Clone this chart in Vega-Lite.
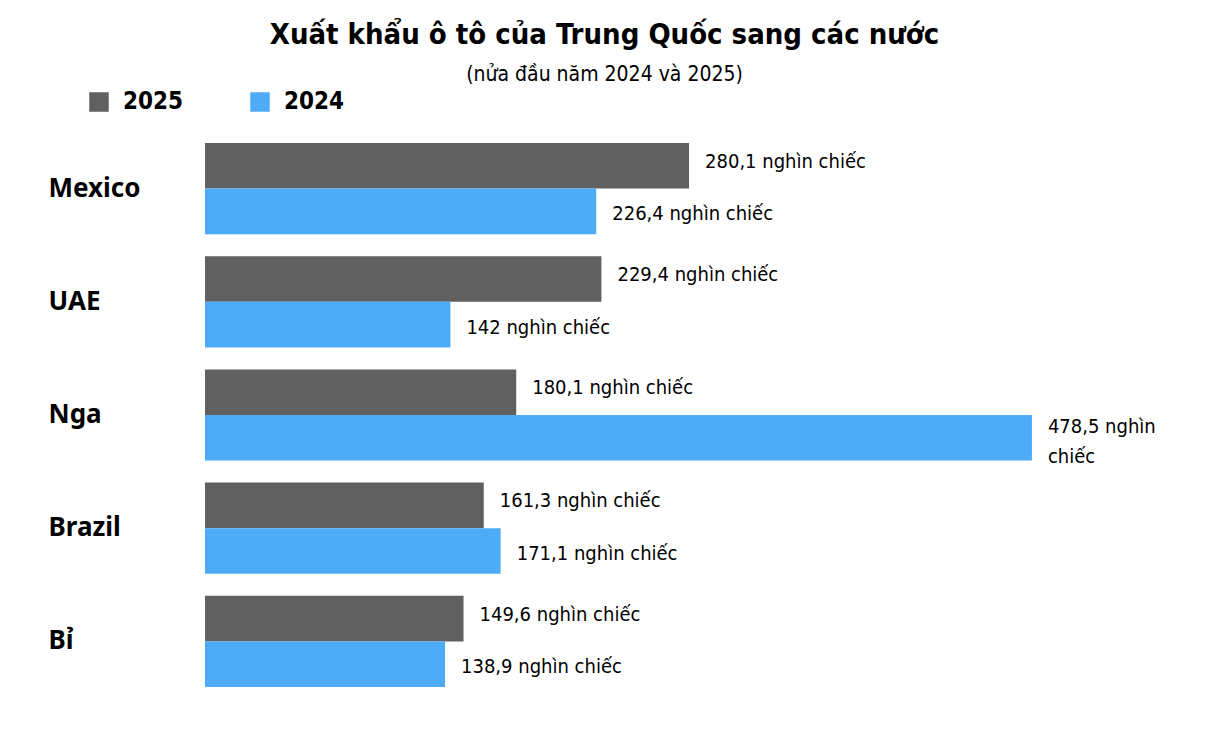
{
  "$schema": "https://vega.github.io/schema/vega-lite/v6.json",
  "width": 1003,
  "height": 566,
  "autosize": {"type": "none"},
  "padding": {"left": 205, "top": 132, "right": 0, "bottom": 36},
  "background": "white",
  "title": {
    "text": "Xuất khẩu ô tô của Trung Quốc sang các nước",
    "subtitle": "(nửa đầu năm 2024 và 2025)",
    "anchor": "middle",
    "dx": -102,
    "offset": 5,
    "font": "DejaVu Sans Condensed",
    "fontSize": 29,
    "fontWeight": "bold",
    "color": "#000000",
    "subtitleFont": "DejaVu Sans Condensed",
    "subtitleFontSize": 21,
    "subtitleColor": "#000000",
    "subtitlePadding": 14
  },
  "data": {
    "values": [
      {"country": "Mexico", "year": "2025", "value": 280.1, "label": "280,1 nghìn chiếc"},
      {"country": "Mexico", "year": "2024", "value": 226.4, "label": "226,4 nghìn chiếc"},
      {"country": "UAE", "year": "2025", "value": 229.4, "label": "229,4 nghìn chiếc"},
      {"country": "UAE", "year": "2024", "value": 142, "label": "142 nghìn chiếc"},
      {"country": "Nga", "year": "2025", "value": 180.1, "label": "180,1 nghìn chiếc"},
      {"country": "Nga", "year": "2024", "value": 478.5, "label": "478,5 nghìn\nchiếc"},
      {"country": "Brazil", "year": "2025", "value": 161.3, "label": "161,3 nghìn chiếc"},
      {"country": "Brazil", "year": "2024", "value": 171.1, "label": "171,1 nghìn chiếc"},
      {"country": "Bỉ", "year": "2025", "value": 149.6, "label": "149,6 nghìn chiếc"},
      {"country": "Bỉ", "year": "2024", "value": 138.9, "label": "138,9 nghìn chiếc"}
    ]
  },
  "encoding": {
    "y": {
      "field": "country",
      "type": "nominal",
      "sort": ["Mexico", "UAE", "Nga", "Brazil", "Bỉ"],
      "scale": {"paddingInner": 0.194, "paddingOuter": 0.097},
      "axis": {
        "title": null,
        "domain": false,
        "ticks": false,
        "labelAlign": "left",
        "labelPadding": 157,
        "labelFont": "Noto Sans",
        "labelFontSize": 26,
        "labelFontWeight": "bold",
        "labelColor": "#000000",
        "labelLimit": 200
      }
    },
    "yOffset": {
      "field": "year",
      "type": "nominal",
      "sort": ["2025", "2024"],
      "scale": {"paddingInner": 0, "paddingOuter": 0}
    },
    "x": {
      "field": "value",
      "type": "quantitative",
      "scale": {"domain": [0, 580.4], "nice": false},
      "axis": null
    }
  },
  "layer": [
    {
      "mark": {"type": "bar", "cornerRadius": 0},
      "encoding": {
        "color": {
          "field": "year",
          "type": "nominal",
          "scale": {"domain": ["2025", "2024"], "range": ["#606060", "#4eabf7"]},
          "legend": {
            "title": null,
            "orient": "none",
            "direction": "horizontal",
            "legendX": -118,
            "legendY": -42,
            "symbolType": "square",
            "symbolSize": 380,
            "symbolStrokeWidth": 0,
            "labelFont": "DejaVu Sans Condensed",
            "labelFontSize": 24,
            "labelFontWeight": "bold",
            "labelColor": "#000000",
            "labelOffset": 12,
            "columnPadding": 64
          }
        }
      }
    },
    {
      "transform": [{"filter": "datum.year === '2025'"}],
      "mark": {
        "type": "text",
        "align": "left",
        "baseline": "middle",
        "dx": 16,
        "dy": -4,
        "font": "DejaVu Sans Condensed",
        "fontSize": 20,
        "color": "#000000",
        "lineBreak": "\n",
        "lineHeight": 30
      },
      "encoding": {"text": {"field": "label"}}
    },
    {
      "transform": [{"filter": "datum.year === '2024' && datum.country !== 'Nga'"}],
      "mark": {
        "type": "text",
        "align": "left",
        "baseline": "middle",
        "dx": 16,
        "dy": 3,
        "font": "DejaVu Sans Condensed",
        "fontSize": 20,
        "color": "#000000",
        "lineBreak": "\n",
        "lineHeight": 30
      },
      "encoding": {"text": {"field": "label"}}
    },
    {
      "transform": [{"filter": "datum.year === '2024' && datum.country === 'Nga'"}],
      "mark": {
        "type": "text",
        "align": "left",
        "baseline": "middle",
        "dx": 16,
        "dy": -11,
        "font": "DejaVu Sans Condensed",
        "fontSize": 20,
        "color": "#000000",
        "lineBreak": "\n",
        "lineHeight": 30
      },
      "encoding": {"text": {"field": "label"}}
    }
  ],
  "config": {"view": {"stroke": null}}
}
